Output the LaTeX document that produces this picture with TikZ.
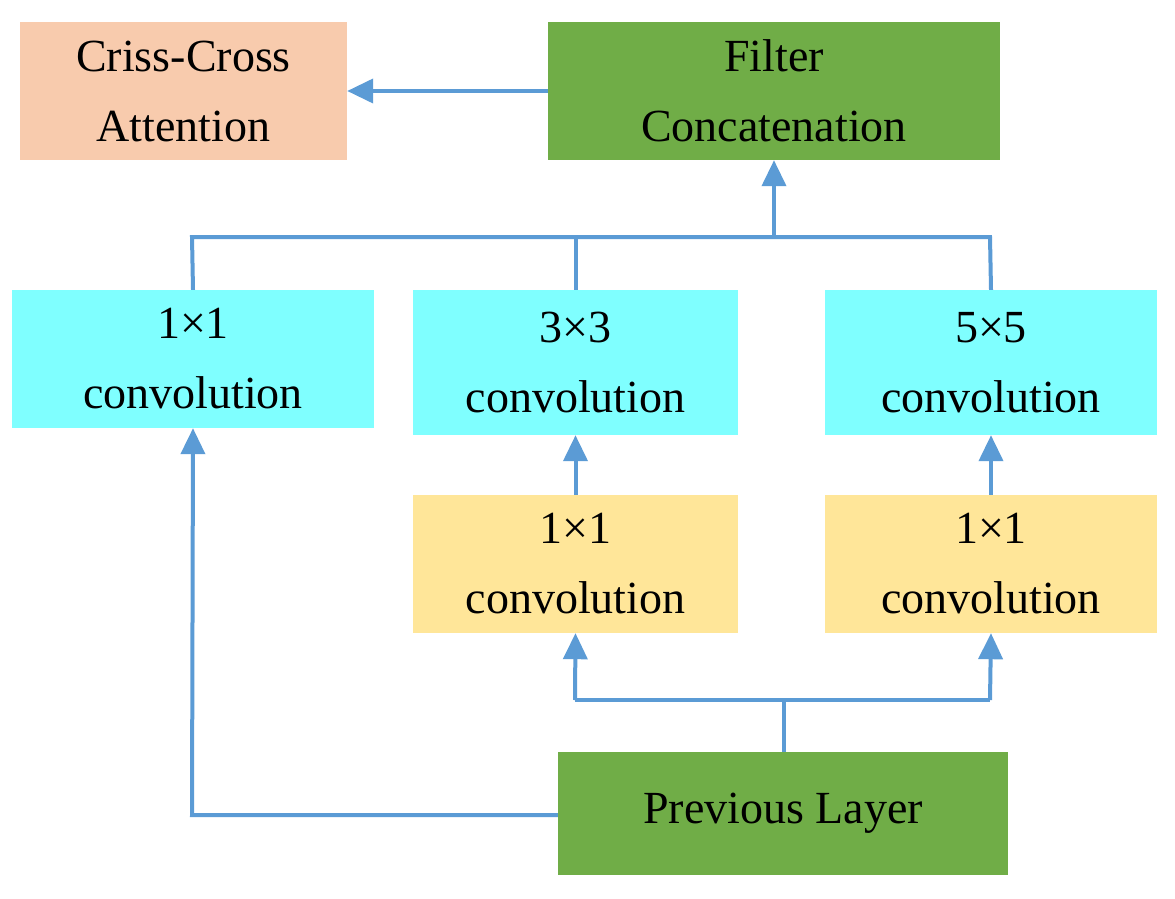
\documentclass[tikz,border=0pt]{standalone}
\usepackage{fontspec}
\setmainfont{Liberation Serif}
\usetikzlibrary{arrows.meta}
\definecolor{lblue}{HTML}{5B9BD5}
\definecolor{cpeach}{HTML}{F8CBAD}
\definecolor{cgreen}{HTML}{70AD47}
\definecolor{ccyan}{HTML}{7FFFFF}
\definecolor{cyel}{HTML}{FFE699}
\begin{document}
\begin{tikzpicture}[x=1pt,y=-1pt,
 box/.style={draw=none,inner sep=0pt,align=center,font=\fontsize{46}{70}\selectfont},
 ln/.style={draw=lblue,line width=4pt},
 arr/.style={ln,-{Triangle[width=24pt,length=26pt]}}]
\useasboundingbox (0,0) rectangle (1175,899);
\newcommand\bx[7]{\node[box,fill=#6,minimum width={#3-#2},minimum height={#5-#4}] (#1) at ({(#2+#3)/2},{(#4+#5)/2}) {#7};}
\bx{cc}{20}{347}{22}{160}{cpeach}{Criss-Cross\\Attention}
\bx{fc}{548}{1000}{22}{160}{cgreen}{Filter\\Concatenation}
\bx{ca}{12}{374}{290}{428}{ccyan}{1×1\\convolution}
\bx{cb}{413}{738}{290}{435}{ccyan}{3×3\\convolution}
\bx{cd}{825}{1157}{290}{435}{ccyan}{5×5\\convolution}
\bx{ya}{413}{738}{495}{633}{cyel}{1×1\\convolution}
\bx{yb}{825}{1157}{495}{633}{cyel}{1×1\\convolution}
\bx{pl}{558}{1008}{752}{875}{cgreen}{Previous Layer}
\coordinate (t1) at (192,237);
\coordinate (t2) at (990,237);
\coordinate (tm) at (774,237);
\coordinate (b1) at (575,700);
\coordinate (b2) at (990,700);
\coordinate (bm) at (784,700);
\coordinate (pc) at (192,815);
\draw[arr] (fc.west) -- (cc.east);
\draw[ln] (ca.north) -- (t1) -- (t2) -- (cd.north);
\draw[ln] (cb.north) -- (cb.north|-t1);
\draw[arr] (tm) -- (fc.south-|tm);
\draw[arr] (ya.north) -- (cb.south);
\draw[arr] (yb.north) -- (cd.south);
\draw[ln] (pl.north-|bm) -- (bm);
\draw[arr] (b1) -- (ya.south);
\draw[arr] (b2) -- (yb.south);
\draw[ln] (b1) -- (b2);
\draw[arr] (pl.west|-pc) -- (pc) -- (ca.south);
\end{tikzpicture}
\end{document}
